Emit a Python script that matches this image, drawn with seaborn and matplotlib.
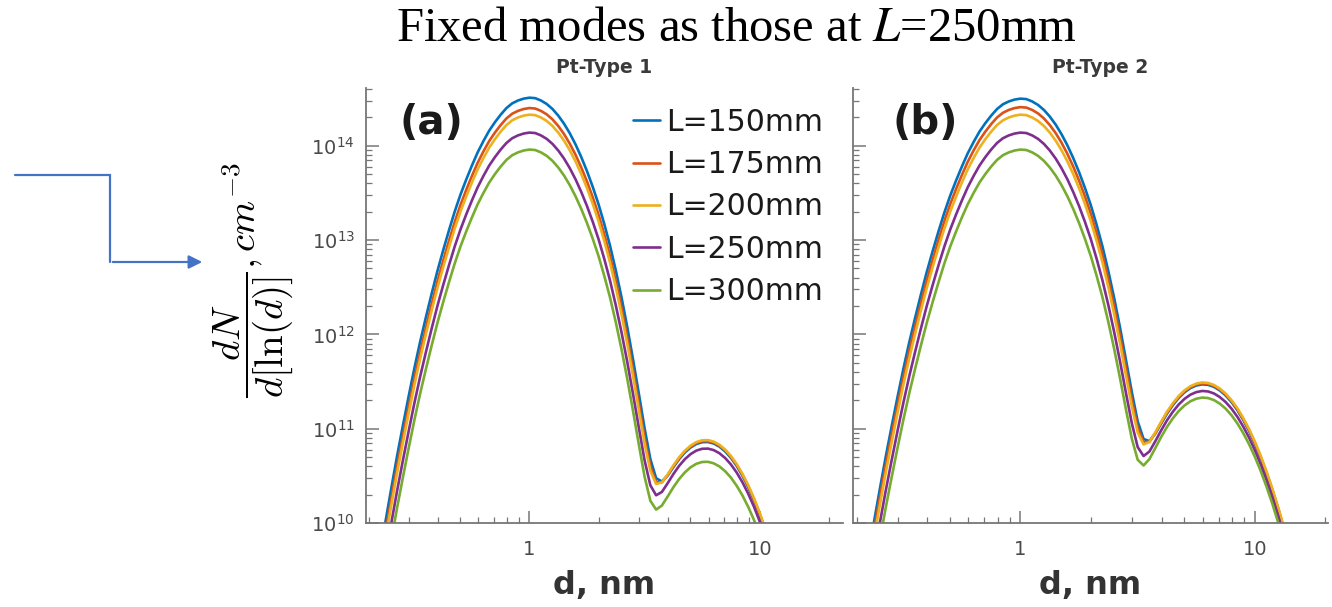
import numpy as np
import pandas as pd
import matplotlib
matplotlib.use("Agg")
import matplotlib.pyplot as plt
import seaborn as sns
from matplotlib.ticker import LogLocator, FixedLocator, FixedFormatter, NullFormatter

# ---------------- data ----------------
# sample positions, log10(d / nm)
log_d = [-0.675, -0.650, -0.625, -0.600, -0.575, -0.550, -0.525, -0.500, -0.475, -0.450,
         -0.425, -0.400, -0.375, -0.350, -0.325, -0.300, -0.275, -0.250, -0.225, -0.200,
         -0.175, -0.150, -0.125, -0.100, -0.075, -0.050, -0.025, 0.000, 0.025, 0.050,
         0.075, 0.100, 0.125, 0.150, 0.175, 0.200, 0.225, 0.250, 0.275, 0.300,
         0.325, 0.350, 0.375, 0.400, 0.425, 0.450, 0.475, 0.500, 0.525, 0.550,
         0.575, 0.600, 0.625, 0.650, 0.675, 0.700, 0.725, 0.750, 0.775, 0.800,
         0.825, 0.850, 0.875, 0.900, 0.925, 0.950, 0.975, 1.000, 1.025, 1.050,
         1.075, 1.100, 1.125, 1.150]

series_labels = ["L=150mm", "L=175mm", "L=200mm", "L=250mm", "L=300mm"]

# log10 of dN/d[ln(d)] (cm^-3), panel (a) Pt-Type 1
a_150 = [9.27, 9.65, 10.02, 10.37, 10.71, 11.03, 11.34, 11.64, 11.92, 12.18, 12.43, 12.67, 12.89, 13.10,
         13.30, 13.48, 13.64, 13.79, 13.93, 14.05, 14.16, 14.25, 14.33, 14.40, 14.45, 14.48, 14.50, 14.51,
         14.505, 14.48, 14.443, 14.39, 14.32, 14.235, 14.133, 14.015, 13.88, 13.73, 13.563, 13.38, 13.17, 12.94,
         12.678, 12.39, 12.075, 11.732, 11.372, 11.004, 10.678, 10.475, 10.44, 10.503, 10.592, 10.677, 10.748,
         10.801, 10.838, 10.857, 10.859, 10.843, 10.810, 10.759, 10.691, 10.605, 10.502, 10.381, 10.243, 10.087,
         9.914, 9.723, 9.515, 9.289, 9.046, 8.785]
a_175 = [9.16, 9.54, 9.91, 10.26, 10.60, 10.92, 11.23, 11.53, 11.81, 12.07, 12.32, 12.56, 12.78, 12.99,
         13.19, 13.37, 13.53, 13.68, 13.82, 13.94, 14.05, 14.14, 14.22, 14.29, 14.34, 14.37, 14.39, 14.40,
         14.395, 14.37, 14.333, 14.28, 14.21, 14.125, 14.023, 13.905, 13.77, 13.62, 13.453, 13.27, 13.06, 12.83,
         12.568, 12.28, 11.965, 11.623, 11.265, 10.904, 10.60, 10.434, 10.431, 10.507, 10.601, 10.687, 10.757,
         10.811, 10.848, 10.867, 10.869, 10.853, 10.820, 10.769, 10.701, 10.615, 10.512, 10.391, 10.253, 10.097,
         9.924, 9.733, 9.525, 9.299, 9.056, 8.795]
a_200 = [9.09, 9.47, 9.84, 10.19, 10.53, 10.85, 11.16, 11.46, 11.74, 12.00, 12.25, 12.49, 12.71, 12.92,
         13.12, 13.30, 13.46, 13.61, 13.75, 13.87, 13.98, 14.07, 14.15, 14.22, 14.27, 14.30, 14.32, 14.33,
         14.325, 14.30, 14.263, 14.21, 14.14, 14.055, 13.953, 13.835, 13.70, 13.55, 13.383, 13.20, 12.99, 12.76,
         12.498, 12.21, 11.896, 11.554, 11.197, 10.842, 10.554, 10.414, 10.43, 10.514, 10.61, 10.697, 10.767,
         10.821, 10.858, 10.877, 10.879, 10.863, 10.830, 10.779, 10.711, 10.625, 10.522, 10.401, 10.263, 10.107,
         9.934, 9.743, 9.535, 9.309, 9.066, 8.805]
a_250 = [8.90, 9.28, 9.65, 10.00, 10.34, 10.66, 10.97, 11.27, 11.55, 11.81, 12.06, 12.30, 12.52, 12.73,
         12.93, 13.11, 13.27, 13.42, 13.56, 13.68, 13.79, 13.88, 13.96, 14.03, 14.08, 14.11, 14.13, 14.14,
         14.135, 14.11, 14.073, 14.02, 13.95, 13.865, 13.763, 13.645, 13.51, 13.36, 13.193, 13.01, 12.80, 12.57,
         12.308, 12.02, 11.705, 11.365, 11.011, 10.665, 10.40, 10.294, 10.329, 10.421, 10.519, 10.606, 10.677,
         10.731, 10.768, 10.787, 10.789, 10.773, 10.740, 10.689, 10.621, 10.535, 10.432, 10.311, 10.173, 10.017,
         9.844, 9.653, 9.445, 9.219, 8.976, 8.715]
a_300 = [8.72, 9.10, 9.47, 9.82, 10.16, 10.48, 10.79, 11.09, 11.37, 11.63, 11.88, 12.12, 12.34, 12.55,
         12.75, 12.93, 13.09, 13.24, 13.38, 13.50, 13.61, 13.70, 13.78, 13.85, 13.90, 13.93, 13.95, 13.96,
         13.955, 13.93, 13.893, 13.84, 13.77, 13.685, 13.583, 13.465, 13.33, 13.18, 13.013, 12.83, 12.62, 12.39,
         12.128, 11.84, 11.525, 11.185, 10.832, 10.491, 10.236, 10.142, 10.185, 10.28, 10.379, 10.466, 10.537,
         10.591, 10.628, 10.647, 10.649, 10.633, 10.600, 10.549, 10.481, 10.395, 10.292, 10.171, 10.033, 9.877,
         9.704, 9.513, 9.305, 9.079, 8.836, 8.575]

# panel (b) Pt-Type 2
b_150 = [9.26, 9.64, 10.01, 10.36, 10.70, 11.02, 11.33, 11.63, 11.91, 12.17, 12.42, 12.66, 12.88, 13.09,
         13.29, 13.47, 13.63, 13.78, 13.92, 14.04, 14.15, 14.24, 14.32, 14.39, 14.44, 14.47, 14.49, 14.50,
         14.495, 14.47, 14.433, 14.38, 14.31, 14.225, 14.123, 14.005, 13.87, 13.72, 13.553, 13.37, 13.16, 12.93,
         12.668, 12.381, 12.067, 11.729, 11.387, 11.077, 10.891, 10.868, 10.948, 11.055, 11.16, 11.25, 11.327,
         11.387, 11.431, 11.458, 11.47, 11.465, 11.444, 11.406, 11.353, 11.283, 11.197, 11.094, 10.976, 10.841,
         10.69, 10.522, 10.339, 10.139, 9.923, 9.69]
b_175 = [9.17, 9.55, 9.92, 10.27, 10.61, 10.93, 11.24, 11.54, 11.82, 12.08, 12.33, 12.57, 12.79, 13.00,
         13.20, 13.38, 13.54, 13.69, 13.83, 13.95, 14.06, 14.15, 14.23, 14.30, 14.35, 14.38, 14.40, 14.41,
         14.405, 14.38, 14.343, 14.29, 14.22, 14.135, 14.033, 13.915, 13.78, 13.63, 13.463, 13.28, 13.07, 12.84,
         12.578, 12.291, 11.977, 11.642, 11.305, 11.013, 10.857, 10.861, 10.953, 11.064, 11.17, 11.26, 11.337,
         11.397, 11.441, 11.468, 11.48, 11.475, 11.454, 11.416, 11.363, 11.293, 11.207, 11.104, 10.986, 10.851,
         10.70, 10.532, 10.349, 10.149, 9.933, 9.70]
b_200 = [9.09, 9.47, 9.84, 10.19, 10.53, 10.85, 11.16, 11.46, 11.74, 12.00, 12.25, 12.49, 12.71, 12.92,
         13.12, 13.30, 13.46, 13.61, 13.75, 13.87, 13.98, 14.07, 14.15, 14.22, 14.27, 14.30, 14.32, 14.33,
         14.325, 14.30, 14.263, 14.21, 14.14, 14.055, 13.953, 13.835, 13.70, 13.55, 13.383, 13.20, 12.99, 12.76,
         12.498, 12.211, 11.898, 11.564, 11.234, 10.96, 10.833, 10.859, 10.96, 11.073, 11.18, 11.27, 11.347,
         11.407, 11.451, 11.478, 11.49, 11.485, 11.464, 11.426, 11.373, 11.303, 11.217, 11.114, 10.996, 10.861,
         10.71, 10.542, 10.359, 10.159, 9.943, 9.71]
b_250 = [8.90, 9.28, 9.65, 10.00, 10.34, 10.66, 10.97, 11.27, 11.55, 11.81, 12.06, 12.30, 12.52, 12.73,
         12.93, 13.11, 13.27, 13.42, 13.56, 13.68, 13.79, 13.88, 13.96, 14.03, 14.08, 14.11, 14.13, 14.14,
         14.135, 14.11, 14.073, 14.02, 13.95, 13.865, 13.763, 13.645, 13.51, 13.36, 13.193, 13.01, 12.80, 12.57,
         12.308, 12.021, 11.709, 11.378, 11.057, 10.805, 10.71, 10.758, 10.866, 10.982, 11.089, 11.18, 11.257,
         11.317, 11.361, 11.388, 11.40, 11.395, 11.374, 11.336, 11.283, 11.213, 11.127, 11.024, 10.906, 10.771,
         10.62, 10.452, 10.269, 10.069, 9.853, 9.62]
b_300 = [8.72, 9.10, 9.47, 9.82, 10.16, 10.48, 10.79, 11.09, 11.37, 11.63, 11.88, 12.12, 12.34, 12.55,
         12.75, 12.93, 13.09, 13.24, 13.38, 13.50, 13.61, 13.70, 13.78, 13.85, 13.90, 13.93, 13.95, 13.96,
         13.955, 13.93, 13.893, 13.84, 13.77, 13.685, 13.583, 13.465, 13.33, 13.18, 13.013, 12.83, 12.62, 12.39,
         12.128, 11.842, 11.53, 11.203, 10.893, 10.67, 10.61, 10.678, 10.794, 10.912, 11.019, 11.11, 11.187,
         11.247, 11.291, 11.318, 11.33, 11.325, 11.304, 11.266, 11.213, 11.143, 11.057, 10.954, 10.836, 10.701,
         10.55, 10.382, 10.199, 9.999, 9.783, 9.55]

panel_titles = ["Pt-Type 1", "Pt-Type 2"]
panel_tags = ["(a)", "(b)"]
x_tick_values = [1, 10]
x_tick_labels = ["1", "10"]
suptitle_text = r"Fixed modes as those at $L$=250mm"
ylabel_text = r"$\dfrac{dN}{d[\ln(d)]},cm^{-3}$"
xlabel_text = "d, nm"

colors = ["#0072BD", "#D95319", "#EDB120", "#7E2F8E", "#77AC30"]


def long_frame(curves):
    rows = []
    for lab, vals in zip(series_labels, curves):
        assert len(vals) == len(log_d), (lab, len(vals))
        for ld, v in zip(log_d, vals):
            rows.append({"d": 10 ** ld, "N": 10 ** v, "L": lab})
    return pd.DataFrame(rows)


df_a = long_frame([a_150, a_175, a_200, a_250, a_300])
df_b = long_frame([b_150, b_175, b_200, b_250, b_300])

# ---------------- style ----------------
sns.set_theme(style="white")
plt.rcParams["font.family"] = ["DejaVu Sans"]
plt.rcParams["mathtext.fontset"] = "dejavusans"

W, H = 1332, 607
fig = plt.figure(figsize=(W / 100, H / 100), dpi=100)

ax_a = fig.add_axes([366 / W, 1 - 523 / H, 477 / W, 435 / H])
ax_b = fig.add_axes([853 / W, 1 - 523 / H, 475 / W, 435 / H])

spine_col = "#767676"
label_col = "#4a4a4a"

for i, (ax, df) in enumerate([(ax_a, df_a), (ax_b, df_b)]):
    sns.lineplot(data=df, x="d", y="N", hue="L", hue_order=series_labels,
                 palette=colors, linewidth=1.9, errorbar=None,
                 legend=(i == 0), ax=ax)
    ax.set_xscale("log")
    ax.set_yscale("log")
    ax.set_ylim(1e10, 4.1e14)
    if i == 0:
        ax.set_xlim(0.195, 23.0)
    else:
        ax.set_xlim(0.193, 20.5)
    for s in ["top", "right"]:
        ax.spines[s].set_visible(False)
    for s in ["left", "bottom"]:
        ax.spines[s].set_color(spine_col)
        ax.spines[s].set_linewidth(1.3)
    ax.xaxis.set_major_locator(FixedLocator(x_tick_values))
    ax.xaxis.set_major_formatter(FixedFormatter(x_tick_labels))
    ax.xaxis.set_minor_locator(LogLocator(base=10, subs=np.arange(2, 10)))
    ax.xaxis.set_minor_formatter(NullFormatter())
    ax.yaxis.set_major_locator(LogLocator(base=10, numticks=10))
    ax.yaxis.set_minor_locator(LogLocator(base=10, subs=np.arange(2, 10), numticks=20))
    ax.yaxis.set_minor_formatter(NullFormatter())
    ax.tick_params(which="both", bottom=True, left=True, top=False, right=False)
    ax.tick_params(which="major", direction="in", length=9, width=1.1,
                   color=spine_col, labelcolor=label_col, labelsize=14, pad=8)
    ax.tick_params(which="minor", direction="in", length=4.5, width=0.9,
                   color=spine_col)
    ax.tick_params(axis="x", which="major", pad=12)
    if i == 1:
        ax.tick_params(axis="y", labelleft=False)
    ax.set_xlabel(xlabel_text, fontsize=23, fontweight="bold", color="#333333", labelpad=8)
    ax.set_ylabel("")
    ax.text(0.5 if i == 0 else 0.52, 1.025, panel_titles[i], transform=ax.transAxes,
            ha="center", va="bottom", fontsize=13.5, fontweight="bold", color="#3a3a3a")
    ax.text(0.07 if i == 0 else 0.083, 0.92, panel_tags[i], transform=ax.transAxes,
            ha="left", va="center", fontsize=29, fontweight="bold", color="#1a1a1a")

leg = ax_a.legend(loc="upper left", bbox_to_anchor=(0.56, 0.955), frameon=False,
                  fontsize=21.5, handlelength=0.9, handletextpad=0.2,
                  labelspacing=0.45, borderpad=0, borderaxespad=0)
for line in leg.get_lines():
    line.set_linewidth(1.9)
for t in leg.get_texts():
    t.set_color("#1a1a1a")

# overall title
fig.text(0.553, 0.952, suptitle_text, ha="center", va="center", fontsize=35,
         family=["Liberation Serif"], math_fontfamily="stix", color="black")

# y-axis label
fig.text(0.19, 0.539, ylabel_text, rotation=90, ha="center", va="center",
         fontsize=28, math_fontfamily="cm", color="black")

# blue elbow arrow
arrow_col = "#4472C4"
x0, x1, x2 = 15 / W, 110 / W, 205 / W
y0, y1 = 1 - 175 / H, 1 - 262 / H
fig.add_artist(plt.Line2D([x0, x1, x1], [y0, y0, y1], transform=fig.transFigure,
                          color=arrow_col, lw=1.6, solid_joinstyle="miter"))
fig.add_artist(matplotlib.patches.FancyArrowPatch((x1, y1), (x2, y1),
                                                  transform=fig.transFigure,
                                                  arrowstyle="-|>,head_length=8,head_width=4",
                                                  color=arrow_col, lw=1.6))

fig.savefig("out.png", dpi=100)
